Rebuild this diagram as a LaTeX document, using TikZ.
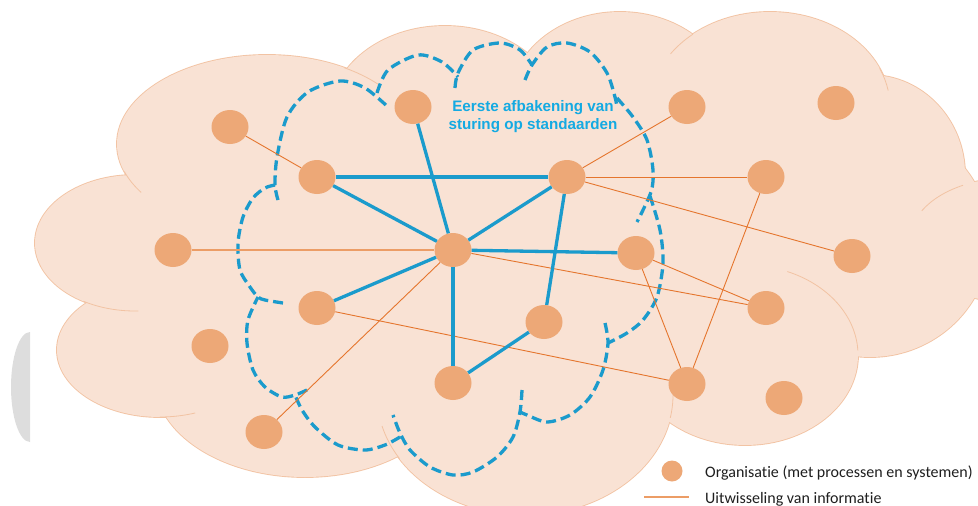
\documentclass[tikz,border=0pt]{standalone}
\usepackage{fontspec}
\newfontfamily\labelfont{Liberation Sans}
\newfontfamily\legendfont[Ligatures={NoCommon}]{Carlito}
\usetikzlibrary{shapes.geometric}

\definecolor{cloudfill}{HTML}{F9E2D4}
\definecolor{cloudline}{HTML}{F2C3A3}
\definecolor{orgfill}{HTML}{EDA877}
\definecolor{linkblue}{HTML}{1B9BCC}
\definecolor{labelblue}{HTML}{14AAE2}
\definecolor{linkorange}{HTML}{E5752D}
\definecolor{softorange}{HTML}{EC9D66}
\definecolor{shadegray}{HTML}{DDDDDD}
\definecolor{legendtext}{HTML}{1E1E1E}

\begin{document}
\begin{tikzpicture}[x=1pt,y=-1pt,
  org/.style={ellipse, fill=orgfill, minimum width=37pt, minimum height=34pt, inner sep=0pt},
  core/.style={draw=linkblue, line width=3.3pt},
  exch/.style={draw=linkorange, line width=0.9pt},
  boundary/.style={draw=linkblue, line width=3.3pt, dash pattern=on 10pt off 5pt},
  rim/.style={draw=cloudline, line width=0.8pt}]
\useasboundingbox (0,0) rectangle (978,506);

% half disc at the left margin
\fill[shadegray] (30,332) arc[start angle=90, end angle=270, x radius=19pt, y radius=55pt] -- cycle;

% cloud: outline of all lobes first, then the fill on top of it
\def\lobes{267/144/150/89, 135/243/100/68, 160/350/103/67, 305/380/150/97,
  525/395/148/120, 745/355/113/90, 870/240/120/117, 1010/240/100/62,
  870/175/95/100, 770/107/120/95, 620/102/110/90, 445/116/115/90, 520/250/360/175}
\foreach \cx/\cy/\rx/\ry in \lobes
  \draw[cloudline, line width=1.8pt] (\cx,\cy) ellipse[x radius=\rx pt, y radius=\ry pt];
\foreach \cx/\cy/\rx/\ry in \lobes
  \fill[cloudfill] (\cx,\cy) ellipse[x radius=\rx pt, y radius=\ry pt];

% short inner arcs where lobes meet
\foreach \cx/\cy/\rx/\ry/\a/\b in {267/144/150/89/59/42, 267/144/150/89/198/213,
  135/243/100/68/239/272, 160/350/103/67/270/290, 525/395/148/120/195/212,
  525/395/148/120/-11/3, 745/355/113/90/3/68, 1010/240/100/62/118/152,
  770/107/120/95/130/146, 770/107/120/95/10/24}
  \draw[rim] (\cx,\cy) ++(\a:\rx pt and \ry pt)
    arc[start angle=\a, end angle=\b, x radius=\rx pt, y radius=\ry pt];

% dashed boundary of the first scope, lobe by lobe
\draw[boundary] plot[smooth] coordinates {(278,200) (275,185) (277,157) (287,117) (308,92) (340,81) (365,88) (388,107)};
\draw[boundary] plot[smooth] coordinates {(377,93) (388,70) (418,55) (442,62) (458,77)};
\draw[boundary] plot[smooth] coordinates {(455,88) (458,73) (473,50) (500,43) (520,50) (532,65)};
\draw[boundary] plot[smooth] coordinates {(525,80) (532,65) (547,47) (567,43) (590,52) (607,73) (615,97) (617,108)};
\draw[boundary] plot[smooth] coordinates {(617,98) (633,117) (647,140) (653,170) (651,192) (637,222)};
\draw[boundary] plot[smooth] coordinates {(650,196) (660,230) (663,263) (657,297) (643,320) (627,333) (608,343)};
\draw[boundary] plot[smooth] coordinates {(605,323) (608,343) (603,370) (590,397) (570,415) (547,422) (527,415) (520,412)};
\draw[boundary] plot[smooth] coordinates {(522,390) (520,412) (513,437) (497,457) (473,472) (453,475) (430,467) (410,450) (400,433) (393,415)};
\draw[boundary] plot[smooth] coordinates {(400,437) (385,445) (365,450) (338,445) (315,427) (302,410) (295,395)};
\draw[boundary] plot[smooth] coordinates {(307,390) (295,395) (282,397) (265,387) (253,370) (247,343) (248,320) (258,297)};
\draw[boundary] plot[smooth] coordinates {(283,303) (265,300) (258,297) (250,287) (240,270) (238,243) (243,217) (253,198) (265,188) (275,185)};

% organisations
\node[org] (n1) at (230,127) {};
\node[org] (n2) at (317,177) {};
\node[org] (n3) at (413,107) {};
\node[org] (n4) at (567,177) {};
\node[org] (n5) at (687,107) {};
\node[org] (n6) at (836,103) {};
\node[org] (n7) at (766,177) {};
\node[org] (n8) at (852,256) {};
\node[org] (n9) at (173,250) {};
\node[org] (n10) at (453,250) {};
\node[org] (n11) at (636,253) {};
\node[org] (n12) at (317,308) {};
\node[org] (n13) at (210,346) {};
\node[org] (n14) at (544,322) {};
\node[org] (n15) at (766,308) {};
\node[org] (n16) at (453,383) {};
\node[org] (n17) at (687,384) {};
\node[org] (n18) at (784,398) {};
\node[org] (n19) at (264,432) {};

% exchange of information
\draw[exch] (n1) -- (n2);
\draw[softorange, line width=1.4pt] (n9) -- (n10);
\draw[exch] (n4) -- (n5);
\draw[exch] (n4) -- (n7);
\draw[exch] (n4) -- (n8);
\draw[exch] (n10) -- (n15);
\draw[exch] (n11) -- (n15);
\draw[exch] (n11) -- (n17);
\draw[exch] (n7) -- (n17);
\draw[exch] (n12) -- (n17);
\draw[exch] (n10) -- (n19);

% links governed by standards
\draw[core] (n2) -- (n4);
\draw[core] (n2) -- (n10);
\draw[core] (n3) -- (n10);
\draw[core] (n4) -- (n10);
\draw[core] (n4) -- (n14);
\draw[core] (n10) -- (n11);
\draw[core] (n10) -- (n12);
\draw[core] (n10) -- (n16);
\draw[core] (n16) -- (n14);

\node[font=\labelfont\bfseries\fontsize{15.2}{18}\selectfont, text=labelblue, align=center, inner sep=0pt]
  (title) at (533,117) {Eerste afbakening van\\sturing op standaarden};

% legend
\node[org, minimum width=21pt, minimum height=21pt] (key) at (672,471) {};
\node[anchor=base west, inner sep=0pt, text=legendtext, font=\legendfont\fontsize{16}{19}\selectfont]
  (keyorg) at (705,477) {Organisatie (met processen en systemen)};
\coordinate (keya) at (644,497);
\coordinate (keyb) at (689,497);
\draw[softorange, line width=1.3pt] (keya) -- (keyb);
\node[anchor=base west, inner sep=0pt, text=legendtext, font=\legendfont\fontsize{16}{19}\selectfont]
  (keyexch) at (705,503) {Uitwisseling van informatie};
\end{tikzpicture}
\end{document}
